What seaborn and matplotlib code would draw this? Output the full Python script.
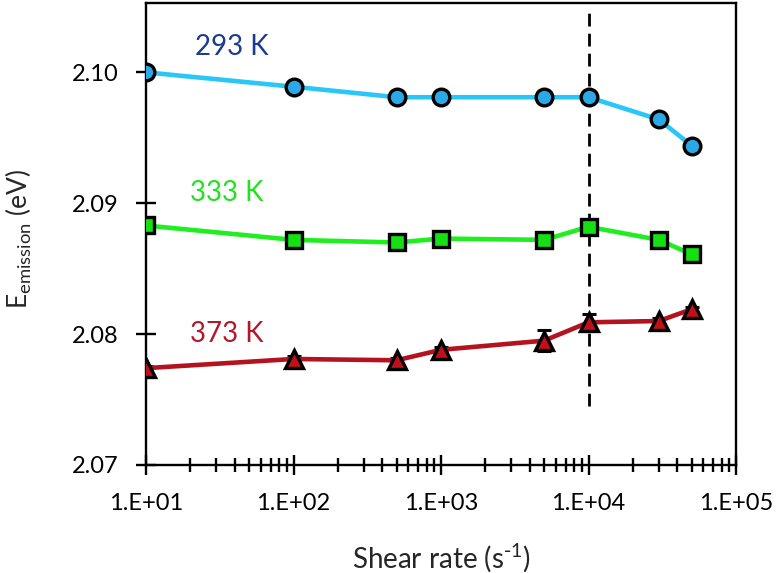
import numpy as np
import pandas as pd
import seaborn as sns
from matplotlib import pyplot as plt
from matplotlib.ticker import FixedLocator, FixedFormatter, LogLocator, NullFormatter

# shear rates (s^-1)
shear = [10, 100, 500, 1000, 5000, 10000, 30000, 50000]

# emission energies (eV) per temperature
e_293 = [2.1000, 2.0989, 2.0981, 2.0981, 2.0981, 2.0981, 2.0964, 2.0944]
e_333 = [2.0883, 2.0872, 2.0870, 2.0873, 2.0872, 2.0882, 2.0872, 2.0861]
e_373 = [2.0774, 2.0781, 2.0780, 2.0788, 2.0795, 2.0809, 2.0810, 2.0819]
err_373 = [0.0002, 0.0002, 0.0002, 0.0002, 0.0008, 0.0006, 0.0002, 0.0002]

labels = ["293 K", "333 K", "373 K"]
xtick_vals = [1e1, 1e2, 1e3, 1e4, 1e5]
xtick_labels = ["1.E+01", "1.E+02", "1.E+03", "1.E+04", "1.E+05"]
ytick_vals = [2.07, 2.08, 2.09, 2.10]
ytick_labels = ["2.07", "2.08", "2.09", "2.10"]

sns.set_style("ticks")
plt.rcParams["font.family"] = ["Lato", "DejaVu Sans"]

fig = plt.figure(figsize=(7.82, 5.73), dpi=100)
ax = fig.add_axes([0.1867, 0.1885, 0.7545, 0.8063])

# (values, line colour, marker face, marker, size, text colour, text x, text y)
series = [
    (e_293, "#29c6f8", "#2aa9e6", "o", 12, "#1c3a8e", 21.5, 2.1019),
    (e_333, "#1fee1f", "#14e014", "s", 12, "#22e022", 20.0, 2.0908),
    (e_373, "#b3121e", "#c0101a", "^", 13, "#b0182c", 20.0, 2.0800),
]

ax.errorbar(shear, e_373, yerr=err_373, fmt="none", ecolor="black",
            elinewidth=1.8, capsize=5, capthick=2.2, zorder=2)

for (vals, lc, fc, mk, ms, tc, tx, ty), lab in zip(series, labels):
    df = pd.DataFrame({"shear": shear, "E": vals})
    sns.lineplot(
        data=df, x="shear", y="E", ax=ax,
        color=lc, linewidth=3.3, marker=mk, markersize=ms,
        markerfacecolor=fc, markeredgecolor="black", markeredgewidth=2.4,
        zorder=3,
    )
    ax.text(tx, ty, lab, color=tc, fontsize=20, va="center", ha="left")

ax.vlines(1e4, 2.0745, 2.1048, colors="black", linewidth=2.0,
          linestyles=(0, (4.6, 2.6)), zorder=1)

ax.set_xscale("log")
ax.set_xlim(10, 1e5)
ax.set_ylim(2.07, 2.1053)
ax.xaxis.set_major_locator(FixedLocator(xtick_vals))
ax.xaxis.set_major_formatter(FixedFormatter(xtick_labels))
ax.xaxis.set_minor_locator(LogLocator(base=10, subs=np.arange(2, 10)))
ax.xaxis.set_minor_formatter(NullFormatter())
ax.yaxis.set_major_locator(FixedLocator(ytick_vals))
ax.yaxis.set_major_formatter(FixedFormatter(ytick_labels))

for s in ax.spines.values():
    s.set_linewidth(1.7)
    s.set_color("black")

ax.tick_params(axis="both", which="major", direction="inout", length=14,
               width=1.7, color="black", labelsize=17, labelcolor="black")
ax.tick_params(axis="x", which="major", pad=13)
ax.tick_params(axis="y", which="major", pad=13)
ax.tick_params(axis="x", which="minor", direction="inout", length=10,
               width=1.7, color="black")

ax.set_xlabel(r"Shear rate (s$\mathregular{^{\text{-}1}}$)", fontsize=20)
ax.set_ylabel(r"$\mathregular{E_{emission}}$ (eV)", fontsize=19)
ax.xaxis.set_label_coords(0.5, -0.165)
ax.yaxis.set_label_coords(-0.19, 0.49)

fig.savefig("out.png", dpi=100)
